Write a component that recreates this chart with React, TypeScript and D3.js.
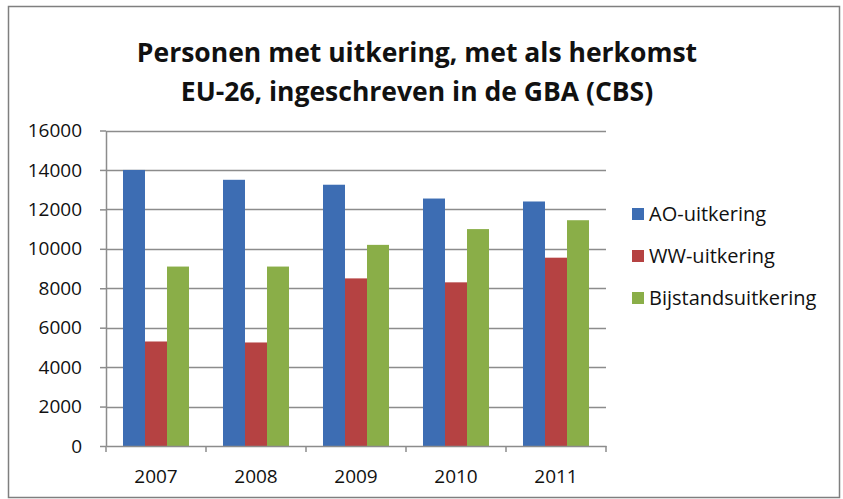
import React, { useEffect, useRef } from "react";
import * as d3 from "d3";

const years = ["2007", "2008", "2009", "2010", "2011"];
const seriesNames = ["AO-uitkering", "WW-uitkering", "Bijstandsuitkering"];
const aoValues = [14000, 13500, 13250, 12550, 12400];
const wwValues = [5300, 5250, 8500, 8300, 9550];
const bijstandValues = [9100, 9100, 10200, 11000, 11450];
const yTicks = [0, 2000, 4000, 6000, 8000, 10000, 12000, 14000, 16000];
const titleLines = [
  "Personen met uitkering, met als herkomst",
  "EU-26, ingeschreven in de GBA (CBS)",
];
const colors = ["#3d6db3", "#b54242", "#8aae48"];

export default function App() {
  const ref = useRef<SVGSVGElement>(null);

  useEffect(() => {
    const width = 843;
    const height = 499;
    const svg = d3.select(ref.current);
    svg.selectAll("*").remove();

    const font = "'Open Sans', sans-serif";
    const margin = { top: 130.5, left: 106, right: 237, bottom: 53 };

    // outer frame
    svg.append("rect")
      .attr("x", 8.5).attr("y", 6.5)
      .attr("width", 831).attr("height", 491)
      .attr("fill", "white")
      .attr("stroke", "#7f7f7f")
      .attr("stroke-width", 1.5);

    // title
    svg.append("g")
      .selectAll("text")
      .data(titleLines)
      .join("text")
      .attr("x", 417)
      .attr("y", (d, i) => 62 + i * 39)
      .attr("text-anchor", "middle")
      .attr("font-family", font)
      .attr("font-weight", "bold")
      .attr("font-size", 26.5)
      .attr("fill", "#111")
      .text(d => d);

    const x = d3.scaleBand()
      .domain(years)
      .range([margin.left, width - margin.right])
      .paddingInner(0.34)
      .paddingOuter(0.17);

    const xSub = d3.scaleBand()
      .domain(seriesNames)
      .range([0, x.bandwidth()]);

    const y = d3.scaleLinear()
      .domain([0, 16000])
      .range([height - margin.bottom, margin.top]);

    // gridlines
    svg.append("g")
      .selectAll("line")
      .data(yTicks.filter(t => t > 0))
      .join("line")
      .attr("x1", margin.left)
      .attr("x2", width - margin.right)
      .attr("y1", d => Math.round(y(d)) + 0.5)
      .attr("y2", d => Math.round(y(d)) + 0.5)
      .attr("stroke", "#8c8c8c")
      .attr("stroke-width", 1.5);

    // y axis
    const yAxis = svg.append("g")
      .attr("transform", `translate(${margin.left},0)`)
      .call(d3.axisLeft(y).tickValues(yTicks).tickFormat(d3.format("d")).tickSize(6).tickPadding(18).tickSizeOuter(0));
    yAxis.select(".domain").attr("stroke", "#8c8c8c").attr("stroke-width", 1.5);
    yAxis.selectAll(".tick line").attr("stroke", "#8c8c8c").attr("stroke-width", 1.5);
    yAxis.selectAll(".tick text")
      .attr("font-family", font)
      .attr("font-size", 19)
      .attr("fill", "#111");

    // bars
    const series = [aoValues, wwValues, bijstandValues];
    seriesNames.forEach((name, si) => {
      svg.append("g")
        .attr("fill", colors[si])
        .selectAll("rect")
        .data(years.map((yr, i) => ({ yr, v: series[si][i] })))
        .join("rect")
        .attr("x", d => (x(d.yr) as number) + (xSub(name) as number))
        .attr("width", xSub.bandwidth())
        .attr("y", d => y(d.v))
        .attr("height", d => y(0) - y(d.v));
    });

    // x axis
    const xAxis = svg.append("g")
      .attr("transform", `translate(0,${y(0)})`)
      .call(d3.axisBottom(x).tickSize(0).tickPadding(24));
    xAxis.select(".domain").attr("stroke", "#8c8c8c").attr("stroke-width", 1.5);
    xAxis.selectAll(".tick text")
      .attr("font-family", font)
      .attr("font-size", 19)
      .attr("fill", "#111");

    // category separators on x axis
    const step = x.step();
    const bounds = d3.range(years.length + 1).map(i => margin.left + i * step);
    svg.append("g")
      .selectAll("line")
      .data(bounds)
      .join("line")
      .attr("x1", d => d)
      .attr("x2", d => d)
      .attr("y1", y(0))
      .attr("y2", y(0) + 6)
      .attr("stroke", "#8c8c8c")
      .attr("stroke-width", 1.5);

    // legend
    const legend = svg.append("g")
      .selectAll("g")
      .data(seriesNames)
      .join("g")
      .attr("transform", (d, i) => `translate(632,${214 + i * 42})`);
    legend.append("rect")
      .attr("x", 0).attr("y", -6)
      .attr("width", 12).attr("height", 12)
      .attr("fill", (d, i) => colors[i]);
    legend.append("text")
      .attr("x", 17)
      .attr("dy", "0.35em")
      .attr("font-family", font)
      .attr("font-size", 20)
      .attr("fill", "#111")
      .text(d => d);
  }, []);

  return <svg ref={ref} width={843} height={499} style={{ position: "absolute", left: 0, top: 0 }} />;
}
